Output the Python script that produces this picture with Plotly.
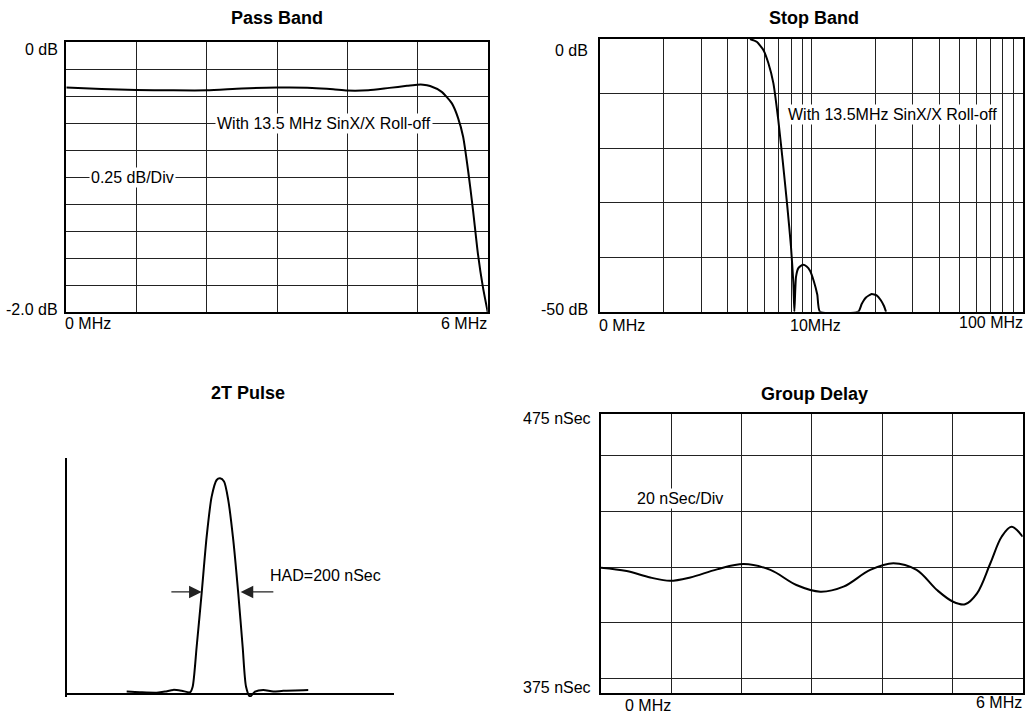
import plotly.graph_objects as go

W, H = 1026, 713
FONT = "Liberation Sans, Arial, sans-serif"

# ---------------- data ----------------
pass_freq_mhz = [0, 0.5, 1.0, 1.5, 2.0, 2.5, 3.0, 3.5, 3.8, 4.0, 4.3, 4.6, 4.85, 5.0, 5.08, 5.18,
                 5.34, 5.49, 5.58, 5.65, 5.72, 5.79, 5.86, 5.93, 6.0]
pass_db = [-0.336, -0.346, -0.353, -0.356, -0.356, -0.343, -0.336, -0.338, -0.348, -0.358, -0.356,
           -0.338, -0.323, -0.314, -0.314, -0.324, -0.366, -0.453, -0.564, -0.70, -0.947, -1.24,
           -1.565, -1.81, -2.0]

stop_freq_mhz = [5.11, 5.5, 5.91, 6.24, 6.59, 6.95, 7.29, 7.67, 7.98, 8.19, 8.28,
                 8.43, 8.65, 9.07, 9.47, 9.82, 10.25, 10.63, 10.94,
                 16.6, 17.22, 18.05, 19.2, 20.27, 21.17, 21.95, 22.44]
stop_db = [0, -0.5, -2.0, -4.4, -8.1, -14.8, -22.2, -30.7, -38.0, -44.7, -50,
           -43.6, -42.0, -41.4, -41.7, -42.5, -44.5, -46.9, -50,
           -50, -48.6, -47.4, -46.75, -47.0, -47.85, -48.95, -50]
stop_grid_mhz = [1, 2, 3, 4, 5, 6, 7, 8, 9, 10, 20, 30, 40, 50, 60, 70, 80, 90, 100]

pulse_time_ns = [300, 366, 450, 492, 533, 575, 617, 630, 650, 675, 700, 725, 750, 767, 787, 808,
                 833, 858, 880, 897, 917, 942, 983, 1033, 1083, 1208]
pulse_amp = [0.011, 0.008, 0.006, 0.011, 0.019, 0.015, 0.008, 0.034, 0.219, 0.467, 0.729, 0.915,
             0.992, 1.0, 0.985, 0.899, 0.714, 0.467, 0.219, 0.034, -0.012, 0.011, 0.019, 0.011,
             0.015, 0.019]

gd_freq_mhz = [0, 0.365, 0.70, 0.98, 1.27, 1.65, 2.03, 2.41, 2.78, 3.12, 3.45, 3.83, 4.16, 4.49,
               4.78, 5.01, 5.18, 5.35, 5.54, 5.70, 5.84, 6.0]
gd_nsec = [419.8, 418.6, 416.3, 415.1, 416.3, 419.2, 421.1, 419.0, 413.6, 411.2, 413.0, 419.0,
           421.4, 419.0, 411.8, 407.6, 406.7, 410.6, 421.4, 430.9, 434.5, 430.9]

titles = ["Pass Band", "Stop Band", "2T Pulse", "Group Delay"]
pass_y_labels = ["0 dB", "-2.0 dB"]
pass_x_labels = ["0 MHz", "6 MHz"]
stop_y_labels = ["0 dB", "-50 dB"]
stop_x_labels = ["0 MHz", "10MHz", "100 MHz"]
gd_y_labels = ["475 nSec", "375 nSec"]
gd_x_labels = ["0 MHz", "6 MHz"]
notes = ["With 13.5 MHz SinX/X Roll-off", "0.25 dB/Div", "With 13.5MHz SinX/X Roll-off",
         "HAD=200 nSec", "20 nSec/Div"]


def fx(p):
    return p / W


def fy(p):
    return 1 - p / H


fig = go.Figure()
line = dict(color="black", width=2)
fig.add_trace(go.Scatter(x=pass_freq_mhz, y=pass_db, mode="lines", line=dict(line, shape="spline", smoothing=0.6),
                         xaxis="x", yaxis="y"))
fig.add_trace(go.Scatter(x=stop_freq_mhz, y=stop_db, mode="lines", line=dict(line, shape="spline", smoothing=0.5),
                         xaxis="x2", yaxis="y2"))
fig.add_trace(go.Scatter(x=pulse_time_ns, y=pulse_amp, mode="lines", line=dict(line, shape="spline", smoothing=0.7),
                         xaxis="x3", yaxis="y3"))
fig.add_trace(go.Scatter(x=gd_freq_mhz, y=gd_nsec, mode="lines", line=dict(line, shape="spline", smoothing=1.0),
                         xaxis="x4", yaxis="y4"))

grid = dict(showgrid=True, gridcolor="#222", gridwidth=1, showline=True, linecolor="black",
            linewidth=2, mirror=True, ticks="", showticklabels=False, zeroline=False, fixedrange=True)

fig.update_layout(
    width=W, height=H, margin=dict(l=0, r=0, t=0, b=0), showlegend=False,
    paper_bgcolor="white", plot_bgcolor="white", font=dict(family=FONT, size=16, color="black"),
    xaxis=dict(grid, domain=[fx(66.3), fx(487.7)], range=[0, 6], dtick=1, anchor="y"),
    yaxis=dict(grid, domain=[fy(312), fy(42.3)], range=[-2, 0], dtick=0.2, anchor="x"),
    xaxis2=dict(grid, domain=[fx(600), fx(1023.4)], type="log", range=[0, 2], tickmode="array",
                tickvals=stop_grid_mhz, anchor="y2"),
    yaxis2=dict(grid, domain=[fy(311.7), fy(39)], range=[-50, 0], dtick=10, anchor="x2"),
    xaxis3=dict(domain=[fx(66.7), fx(394)], range=[0, 1637], showgrid=False, zeroline=False,
                showline=False, showticklabels=False, ticks="", anchor="y3", fixedrange=True),
    yaxis3=dict(domain=[fy(697), fy(458)], range=[-0.014, 1.094], showgrid=False, zeroline=True,
                zerolinecolor="black", zerolinewidth=2, showline=True, linecolor="black", linewidth=2,
                showticklabels=False, ticks="", anchor="x3", fixedrange=True),
    xaxis4=dict(grid, domain=[fx(601), fx(1022.7)], range=[0, 6], dtick=1, anchor="y4"),
    yaxis4=dict(grid, domain=[fy(692.7), fy(413.7)], range=[375, 475], dtick=20, anchor="x4"),
)

ann = []


def text(t, x, y, xanchor="center", size=16, bold=False, bg=None):
    d = dict(text=("<b>%s</b>" % t) if bold else t, x=fx(x), y=fy(y), xref="paper", yref="paper",
             xanchor=xanchor, yanchor="middle", showarrow=False,
             font=dict(family=FONT, size=size, color="black"))
    if bg:
        d.update(bgcolor=bg, borderpad=1)
    ann.append(d)


# titles
text(titles[0], 277, 17.5, size=18, bold=True)
text(titles[1], 814, 17.5, size=18, bold=True)
text(titles[2], 248.3, 393, size=18, bold=True)
text(titles[3], 814, 393.5, size=18, bold=True)

# pass band labels
text(pass_y_labels[0], 59.5, 49, "right")
text(pass_y_labels[1], 59.5, 310, "right")
text(pass_x_labels[0], 63.3, 323.5, "left")
text(pass_x_labels[1], 488.5, 323.5, "right")
text(notes[0], 324, 123.3, bg="white")
text(notes[1], 132, 177.7, bg="white")

# stop band labels
text(stop_y_labels[0], 590, 50, "right")
text(stop_y_labels[1], 590, 310, "right")
text(stop_x_labels[0], 597.3, 325, "left")
text(stop_x_labels[1], 815, 325)
text(stop_x_labels[2], 1025, 322, "right")
text(notes[2], 892, 115, bg="white")

# group delay labels
text(gd_y_labels[0], 593, 419, "right")
text(gd_y_labels[1], 593, 687.5, "right")
text(gd_x_labels[0], 673.3, 705, "right")
text(gd_x_labels[1], 1023.5, 702.5, "right")
text(notes[4], 680, 498.3, bg="white")

# 2T pulse label and arrows
ann.append(dict(text=notes[3], x=1006, y=0.548, xref="x3", yref="y3", xanchor="left",
                yanchor="middle", showarrow=False, font=dict(family=FONT, size=16, color="black")))
for head, tail in [(675, 516), (870, 1041)]:
    ann.append(dict(text="", x=head, y=0.473, ax=tail, ay=0.473, xref="x3", yref="y3",
                    axref="x3", ayref="y3", showarrow=True, arrowhead=2, arrowsize=2.1,
                    arrowwidth=1.2, arrowcolor="#222"))

fig.update_layout(annotations=ann)
fig.write_html("out.html", config={"displayModeBar": False},
               post_script="document.body.style.margin='0';document.body.style.overflow='hidden';")
